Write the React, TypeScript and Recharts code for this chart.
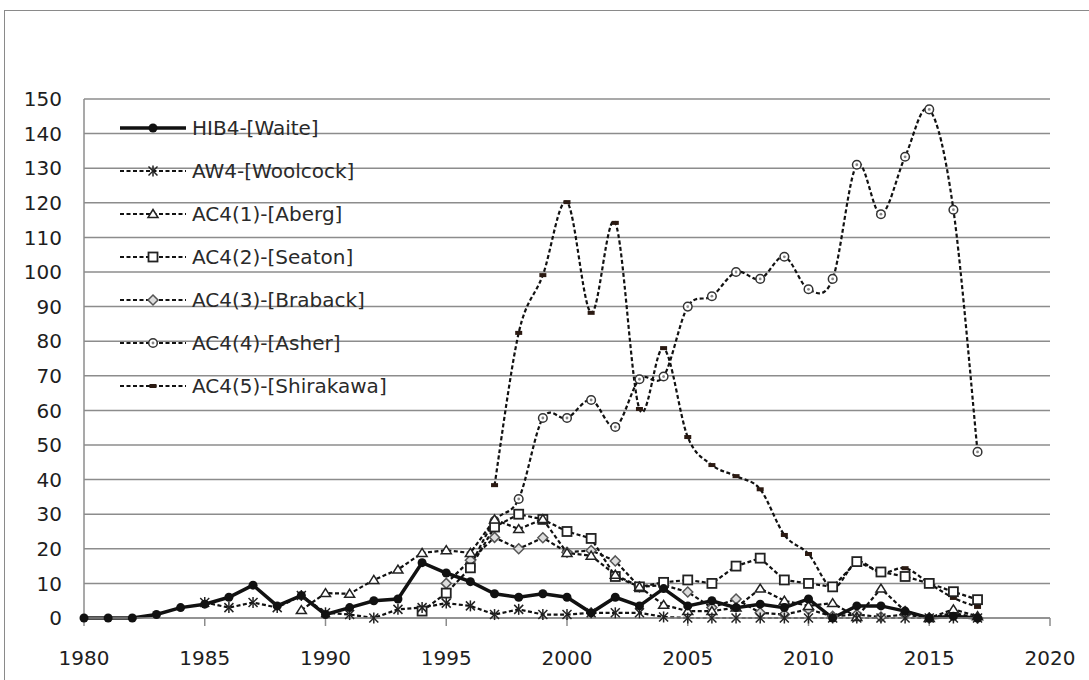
import React from "react";
import { LineChart, Line, XAxis, YAxis, CartesianGrid, Legend } from "recharts";

// Years on the x axis
const years = [
  1980, 1981, 1982, 1983, 1984, 1985, 1986, 1987, 1988, 1989,
  1990, 1991, 1992, 1993, 1994, 1995, 1996, 1997, 1998, 1999,
  2000, 2001, 2002, 2003, 2004, 2005, 2006, 2007, 2008, 2009,
  2010, 2011, 2012, 2013, 2014, 2015, 2016, 2017,
];

const waite = [
  0, 0, 0, 1, 3, 4, 6, 9.5, 3.5, 6.5,
  1, 3, 5, 5.5, 16, 13, 10.5, 7, 6, 7,
  6, 1.5, 6, 3.5, 8.5, 3.5, 5, 3, 4, 3,
  5.5, 0, 3.5, 3.5, 2, 0, 0.5, 0,
];
const woolcock = [
  null, null, null, null, null, 4.5, 3, 4.5, 3, 6.5,
  1.5, 1, 0, 2.5, 3, 4.3, 3.5, 1, 2.5, 1,
  1, 1.5, 1.5, 1.5, 0.3, 0, 0, 0, 0, 0,
  0, 0, 0, 0, 0, 0, 0, 0,
];
const aberg = [
  null, null, null, null, null, null, null, null, null, 2.3,
  7.2, 7, 11, 14, 18.8, 19.6, 18.8, 28.5, 25.7, 28.6,
  18.8, 18, 12.5, 9, 3.8, 2, 2, 3, 8.5, 5,
  3.5, 4.3, 0.3, 8.5, 2, 0, 2.5, 0.5,
];
const seaton = [
  null, null, null, null, null, null, null, null, null, null,
  null, null, null, null, 2, 7.2, 14.5, 26.3, 30, 28.5,
  25, 23, 12, 9, 10.3, 11, 10, 15, 17.3, 11,
  10, 9, 16.3, 13.3, 12, 10, 7.6, 5.3,
];
const braback = [
  null, null, null, null, null, null, null, null, null, null,
  null, null, null, null, null, 10, 16.7, 23.3, 20, 23.2,
  19, 19.5, 16.5, 9, 9.5, 7.5, 3, 5.5, 1.5, 1,
  2.5, 0.5, 1, 0.3, 1, 0, 1.5, 0,
];
const asher = [
  null, null, null, null, null, null, null, null, null, null,
  null, null, null, null, null, null, 15, 28, 34.4, 57.8,
  57.8, 63, 55.2, 69, 69.8, 90, 93, 100, 98, 104.4,
  95, 98, 131, 116.7, 133.3, 147, 118, 48,
];
const shirakawa = [
  null, null, null, null, null, null, null, null, null, null,
  null, null, null, null, null, null, null, 38.4, 82.4, 99.1,
  120.2, 88.2, 114.2, 60.4, 78, 52.3, 44.2, 41, 37.2, 24,
  18.5, 8.7, 16.2, 13, 14.4, 10, 5.8, 3.2,
];

const xTicks = [1980, 1985, 1990, 1995, 2000, 2005, 2010, 2015, 2020];
const yTicks = [0, 10, 20, 30, 40, 50, 60, 70, 80, 90, 100, 110, 120, 130, 140, 150];

const data = years.map((year, i) => ({
  year,
  waite: waite[i],
  woolcock: woolcock[i],
  aberg: aberg[i],
  seaton: seaton[i],
  braback: braback[i],
  asher: asher[i],
  shirakawa: shirakawa[i],
}));

type Shape = "dot" | "star" | "triangle" | "square" | "diamond" | "circle" | "dash";

// legend order; drawn in reverse so the solid line sits on top
const series: { key: string; name: string; shape: Shape; smooth?: boolean }[] = [
  { key: "waite", name: "HIB4-[Waite]", shape: "dot" },
  { key: "woolcock", name: "AW4-[Woolcock]", shape: "star" },
  { key: "aberg", name: "AC4(1)-[Aberg]", shape: "triangle" },
  { key: "seaton", name: "AC4(2)-[Seaton]", shape: "square" },
  { key: "braback", name: "AC4(3)-[Braback]", shape: "diamond" },
  { key: "asher", name: "AC4(4)-[Asher]", shape: "circle", smooth: true },
  { key: "shirakawa", name: "AC4(5)-[Shirakawa]", shape: "dash", smooth: true },
];

const FONT = "'DejaVu Sans', Verdana, sans-serif";
const DASH = "4 2.5";

// Excel-like smoothed line (uniform Catmull-Rom as cubic beziers)
function excelSmooth(context: any) {
  let pts: number[][] = [];
  return {
    areaStart() {},
    areaEnd() {},
    lineStart() {
      pts = [];
    },
    point(x: number, y: number) {
      pts.push([+x, +y]);
    },
    lineEnd() {
      if (!pts.length) return;
      context.moveTo(pts[0][0], pts[0][1]);
      for (let i = 0; i < pts.length - 1; i++) {
        const p0 = pts[Math.max(i - 1, 0)];
        const p1 = pts[i];
        const p2 = pts[i + 1];
        const p3 = pts[Math.min(i + 2, pts.length - 1)];
        context.bezierCurveTo(
          p1[0] + (p2[0] - p0[0]) / 6,
          p1[1] + (p2[1] - p0[1]) / 6,
          p2[0] - (p3[0] - p1[0]) / 6,
          p2[1] - (p3[1] - p1[1]) / 6,
          p2[0],
          p2[1]
        );
      }
    },
  };
}

function Marker({ shape, cx, cy }: { shape: Shape; cx: number; cy: number }) {
  switch (shape) {
    case "dot":
      return <circle cx={cx} cy={cy} r={4.5} fill="#111" />;
    case "star":
      return (
        <g stroke="#222" strokeWidth={1.5}>
          <line x1={cx - 4.5} y1={cy - 4.5} x2={cx + 4.5} y2={cy + 4.5} />
          <line x1={cx - 4.5} y1={cy + 4.5} x2={cx + 4.5} y2={cy - 4.5} />
          <line x1={cx} y1={cy - 5.5} x2={cx} y2={cy + 5.5} />
        </g>
      );
    case "triangle":
      return (
        <polygon
          points={`${cx},${cy - 4.5} ${cx + 5},${cy + 3.5} ${cx - 5},${cy + 3.5}`}
          fill="#fff"
          stroke="#222"
          strokeWidth={1.5}
        />
      );
    case "square":
      return <rect x={cx - 4.5} y={cy - 4.5} width={9} height={9} fill="#fff" stroke="#222" strokeWidth={1.8} />;
    case "diamond":
      return (
        <polygon
          points={`${cx},${cy - 5} ${cx + 5},${cy} ${cx},${cy + 5} ${cx - 5},${cy}`}
          fill="#ddd"
          stroke="#555"
          strokeWidth={1.5}
        />
      );
    case "circle":
      return (
        <g>
          <circle cx={cx} cy={cy} r={4.3} fill="#fff" stroke="#333" strokeWidth={1.5} />
          <circle cx={cx} cy={cy} r={1.4} fill="#888" />
        </g>
      );
    case "dash":
      return <rect x={cx - 3.5} y={cy - 2} width={7} height={4} fill="#2b1a12" />;
  }
  return null;
}

function renderLegend() {
  return (
    <div style={{ fontFamily: FONT, fontSize: 20, color: "#2a2a2a" }}>
      {series.map((s) => (
        <div key={s.key} style={{ display: "flex", alignItems: "center", height: 43 }}>
          <svg width={72} height={20}>
            <line
              x1={2}
              y1={10}
              x2={68}
              y2={10}
              stroke="#111"
              strokeWidth={s.shape === "dot" ? 3.5 : 2.2}
              strokeDasharray={s.shape === "dot" ? undefined : DASH}
            />
            <Marker shape={s.shape} cx={35} cy={10} />
          </svg>
          <span style={{ marginLeft: 2 }}>{s.name}</span>
        </div>
      ))}
    </div>
  );
}

export default function App() {
  return (
    <div style={{ position: "relative", width: 1089, height: 680, overflow: "hidden", background: "#fff" }}>
      <style>{"body{margin:0}"}</style>
      <div
        style={{
          position: "absolute",
          left: 4,
          top: 10,
          width: 1200,
          height: 800,
          border: "1.5px solid #8a8a8a",
        }}
      />
      <div style={{ position: "absolute", left: 0, top: 0 }}>
        <LineChart width={1089} height={680} data={data} margin={{ top: 99, right: 39, bottom: 0, left: 0 }}>
          <CartesianGrid vertical={false} stroke="#8c8c8c" strokeWidth={1.5} />
          <XAxis
            dataKey="year"
            type="number"
            domain={[1980, 2020]}
            ticks={xTicks}
            height={62}
            axisLine={{ stroke: "#8c8c8c", strokeWidth: 1.5 }}
            tickLine={{ stroke: "#8c8c8c", strokeWidth: 1.5 }}
            tickSize={8}
            tickMargin={25}
            tick={{ fill: "#1e1e1e", fontSize: 20, fontFamily: FONT }}
          />
          <YAxis
            type="number"
            domain={[0, 150]}
            ticks={yTicks}
            width={84}
            axisLine={{ stroke: "#8c8c8c", strokeWidth: 1.5 }}
            tickLine={false}
            tickMargin={16}
            tick={{ fill: "#1e1e1e", fontSize: 20, fontFamily: FONT }}
          />
          <Legend
            layout="vertical"
            align="center"
            verticalAlign="middle"
            content={renderLegend}
            wrapperStyle={{ left: 118, top: 106, width: 320 }}
          />
          {[...series].reverse().map((s) => (
            <Line
              key={s.key}
              dataKey={s.key}
              name={s.name}
              type={s.smooth ? (excelSmooth as any) : "linear"}
              stroke="#111"
              strokeWidth={s.shape === "dot" ? 3.5 : 2.2}
              strokeDasharray={s.shape === "dot" ? undefined : DASH}
              isAnimationActive={false}
              activeDot={false}
              dot={(p: any) =>
                p.cx == null || p.cy == null || p.value == null ? (
                  <g key={`${s.key}-${p.index}`} />
                ) : (
                  <Marker key={`${s.key}-${p.index}`} shape={s.shape} cx={p.cx} cy={p.cy} />
                )
              }
            />
          ))}
        </LineChart>
      </div>
    </div>
  );
}
